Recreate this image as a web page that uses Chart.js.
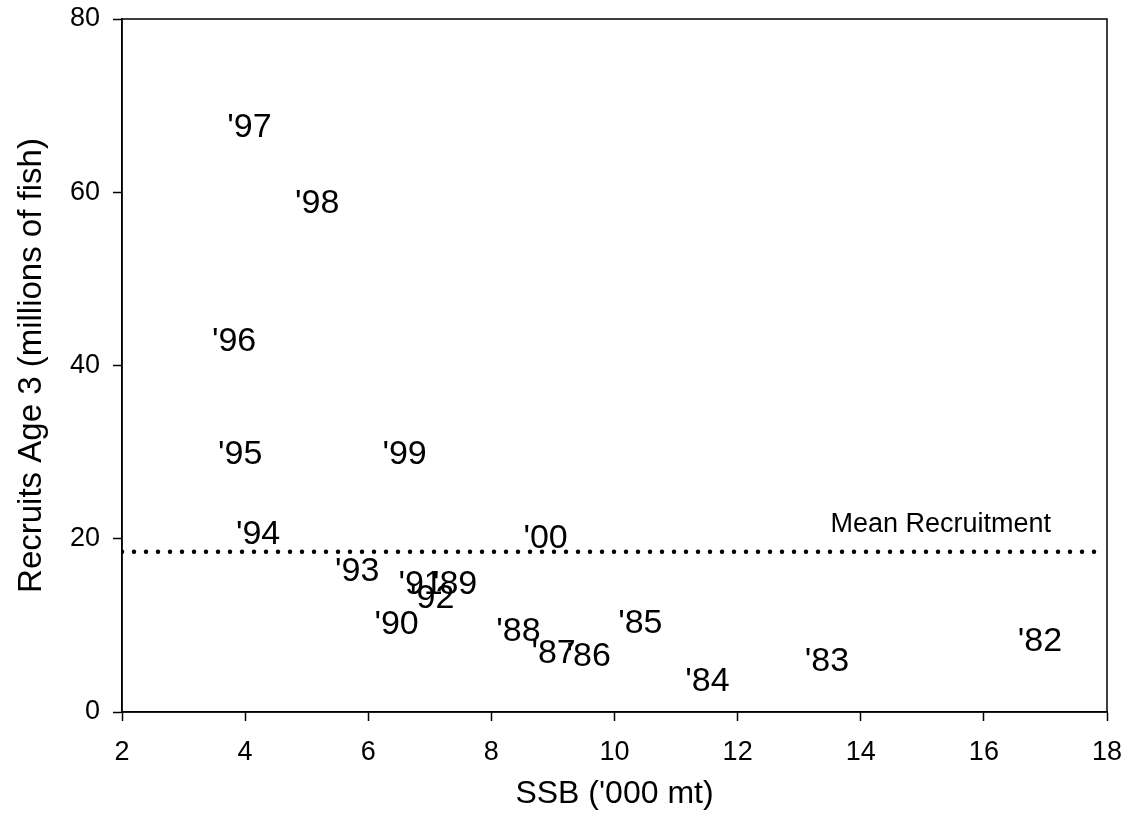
<!DOCTYPE html>
<html>
<head>
<meta charset="utf-8">
<script src="https://cdn.jsdelivr.net/npm/chart.js@4/dist/chart.umd.min.js"></script>
<style>
  html, body { margin: 0; padding: 0; background: #fff; }
  #wrap { width: 1126px; height: 827px; }
</style>
</head>
<body>
<div id="wrap"><canvas id="c" width="1126" height="827"></canvas></div>
<script>
const yearLabels = ["'82","'83","'84","'85","'86","'87","'88","'89","'90","'91","'92","'93","'94","'95","'96","'97","'98","'99","'00"];
const ssb       = [16.91, 13.45, 11.51, 10.42, 9.58, 9.01, 8.44, 7.41, 6.46, 6.85, 7.04, 5.82, 4.21, 3.92, 3.82, 4.07, 5.17, 6.59, 8.88];
const recruits  = [8.3, 6.0, 3.7, 10.4, 6.6, 7.0, 9.5, 14.9, 10.3, 14.9, 13.3, 16.4, 20.7, 30.0, 43.0, 67.7, 58.9, 30.0, 20.2];
const meanRecruitment = 18.5;
const meanLineX = [2, 17.9];
const meanLabel = "Mean Recruitment";
const meanLabelPos = [15.3, 21.8];
const xTicks = [2, 4, 6, 8, 10, 12, 14, 16, 18];
const yTicks = [0, 20, 40, 60, 80];

const FONT = "'Liberation Sans', Arial, sans-serif";

const textPlugin = {
  id: 'yearText',
  afterDatasetsDraw(chart) {
    const ctx = chart.ctx;
    const meta = chart.getDatasetMeta(0);
    ctx.save();
    ctx.fillStyle = '#000';
    ctx.textAlign = 'center';
    ctx.textBaseline = 'middle';
    ctx.font = '34px ' + FONT;
    meta.data.forEach((pt, i) => {
      ctx.fillText(yearLabels[i], pt.x, pt.y + 2);
    });
    const xs = chart.scales.x, ys = chart.scales.y;
    ctx.font = '27px ' + FONT;
    ctx.fillText(meanLabel, xs.getPixelForValue(meanLabelPos[0]), ys.getPixelForValue(meanLabelPos[1]) + 1);
    const a = chart.chartArea;
    ctx.strokeStyle = '#000';
    ctx.lineWidth = 1.5;
    ctx.strokeRect(a.left, a.top, a.right - a.left, a.bottom - a.top);
    ctx.restore();
  }
};

new Chart(document.getElementById('c'), {
  type: 'scatter',
  data: {
    datasets: [
      {
        data: ssb.map((v, i) => ({x: v, y: recruits[i]})),
        pointRadius: 0,
        pointHoverRadius: 0,
        showLine: false
      },
      {
        type: 'line',
        data: meanLineX.map(v => ({x: v, y: meanRecruitment})),
        borderColor: '#000',
        borderWidth: 4.5,
        borderDash: [0, 12],
        borderCapStyle: 'round',
        pointRadius: 0,
        fill: false
      }
    ]
  },
  options: {
    responsive: false,
    animation: false,
    events: [],
    layout: { padding: { left: 0, top: 19, right: 19, bottom: 0 } },
    plugins: { legend: { display: false }, tooltip: { enabled: false } },
    scales: {
      x: {
        type: 'linear',
        min: 2, max: 18,
        afterBuildTicks: s => { s.ticks = xTicks.map(v => ({value: v})); },
        afterFit: s => { s.height = 115; s.paddingLeft = 0; s.paddingRight = 0; },
        grid: { drawOnChartArea: false, tickLength: 9, tickColor: '#000', tickWidth: 1.5 },
        border: { display: true, color: '#000', width: 1.5 },
        ticks: { color: '#000', font: { size: 27, family: FONT }, padding: 15, maxRotation: 0 },
        title: { display: true, text: "SSB ('000 mt)", color: '#000', font: { size: 32, family: FONT }, padding: { top: 0, bottom: 14 } }
      },
      y: {
        type: 'linear',
        min: 0, max: 80,
        afterBuildTicks: s => { s.ticks = yTicks.map(v => ({value: v})); },
        afterFit: s => { s.width = 122; s.paddingTop = 0; s.paddingBottom = 0; },
        grid: { drawOnChartArea: false, tickLength: 9, tickColor: '#000', tickWidth: 1.5 },
        border: { display: true, color: '#000', width: 1.5 },
        ticks: { color: '#000', font: { size: 27, family: FONT }, padding: 13 },
        title: { display: true, text: "Recruits Age 3 (millions of fish)", color: '#000', font: { size: 33, family: FONT }, padding: { top: 12, bottom: 0 } }
      }
    }
  },
  plugins: [textPlugin]
});
</script>
</body>
</html>
